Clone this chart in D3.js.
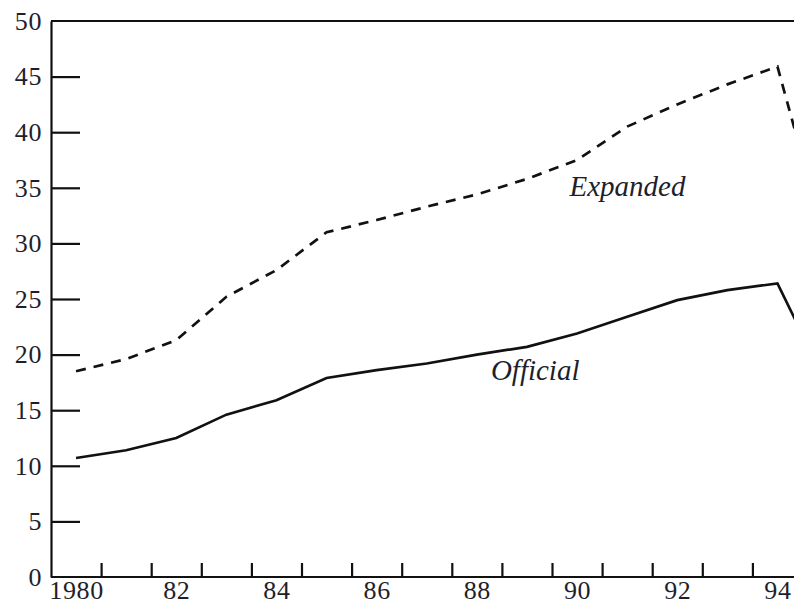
<!DOCTYPE html>
<html>
<head>
<meta charset="utf-8">
<script src="https://cdn.jsdelivr.net/npm/d3@7"></script>
<style>
body{margin:0;background:#fff;}
.axis path,.axis line{stroke:#111;stroke-width:2.2;}
.axis text{font-family:"Liberation Serif",serif;font-size:26px;letter-spacing:0.6px;fill:#1f1f2c;}
.lbl{font-family:"Liberation Serif",serif;font-style:italic;font-size:29px;fill:#1f1f2c;}
</style>
</head>
<body>
<div id="chart"></div>
<script>
// years plotted at the middle of each year band
var years = [1980,1981,1982,1983,1984,1985,1986,1987,1988,1989,1990,1991,1992,1993,1994,1995];
var official = [10.7,11.4,12.5,14.6,15.9,17.9,18.6,19.2,20.0,20.7,21.9,23.4,24.9,25.8,26.4,17.2];
var expanded = [18.5,19.6,21.3,25.2,27.6,31.0,32.1,33.3,34.4,35.8,37.5,40.5,42.5,44.3,45.9,29.5];
var yTicks = [0,5,10,15,20,25,30,35,40,45,50];
var xLabelYears = [1980,1982,1984,1986,1988,1990,1992,1994];
var xLabelText = ["1980","82","84","86","88","90","92","94"];
var seriesLabels = ["Expanded","Official"];

var w = 794, h = 606;
var margin = {"top":21,"left":51,"bottom":29};

var svg = d3.select("#chart").append("svg")
  .attr("width", w)
  .attr("height", h);

var x = d3.scaleLinear()
  .domain([1980, 1996])
  .range([margin.left, margin.left + 16*50.1]);

var y = d3.scaleLinear()
  .domain([0, 50])
  .range([h - margin.bottom, margin.top]);

// top frame line
svg.append("line")
  .attr("x1", x(1980)).attr("x2", w + 10)
  .attr("y1", y(50)).attr("y2", y(50))
  .attr("stroke", "#111").attr("stroke-width", 2.2);

// y axis, ticks point inward
svg.append("g")
  .attr("class", "axis")
  .attr("transform", "translate(" + x(1980) + ",0)")
  .call(d3.axisLeft(y).tickValues(yTicks).tickSize(-29).tickPadding(9).tickSizeOuter(0))
  .call(function(g){ g.selectAll(".tick line").filter(function(d){return d===0||d===50;}).remove(); });

// x axis: ticks on year boundaries
var bounds = d3.range(1981, 1996);
svg.append("g")
  .attr("class", "axis")
  .attr("transform", "translate(0," + y(0) + ")")
  .call(d3.axisBottom(x).tickValues(bounds).tickSize(-14).tickFormat("").tickSizeOuter(0))
  .call(function(g){ g.select(".domain").attr("d", "M" + x(1980) + ",0H" + (w + 10)); });

// x labels centred in year bands
svg.append("g")
  .attr("class", "axis")
  .attr("transform", "translate(0," + y(0) + ")")
  .call(d3.axisBottom(x).tickValues(xLabelYears.map(function(d){return d+0.5;}))
    .tickSize(0).tickPadding(4)
    .tickFormat(function(d,i){return xLabelText[i];}))
  .call(function(g){ g.select(".domain").remove(); });

var line = d3.line()
  .x(function(d,i){return x(years[i]+0.5);})
  .y(function(d){return y(d);});

svg.append("path")
  .datum(expanded)
  .attr("d", line)
  .attr("fill", "none")
  .attr("stroke", "#111")
  .attr("stroke-width", 2.7)
  .attr("stroke-dasharray", "10,8");

svg.append("path")
  .datum(official)
  .attr("d", line)
  .attr("fill", "none")
  .attr("stroke", "#111")
  .attr("stroke-width", 2.7);

svg.append("text")
  .attr("class", "lbl")
  .attr("x", x(1990.35))
  .attr("y", y(34.3))
  .text(seriesLabels[0]);

svg.append("text")
  .attr("class", "lbl")
  .attr("x", x(1988.78))
  .attr("y", y(17.7))
  .text(seriesLabels[1]);
</script>
</body>
</html>
